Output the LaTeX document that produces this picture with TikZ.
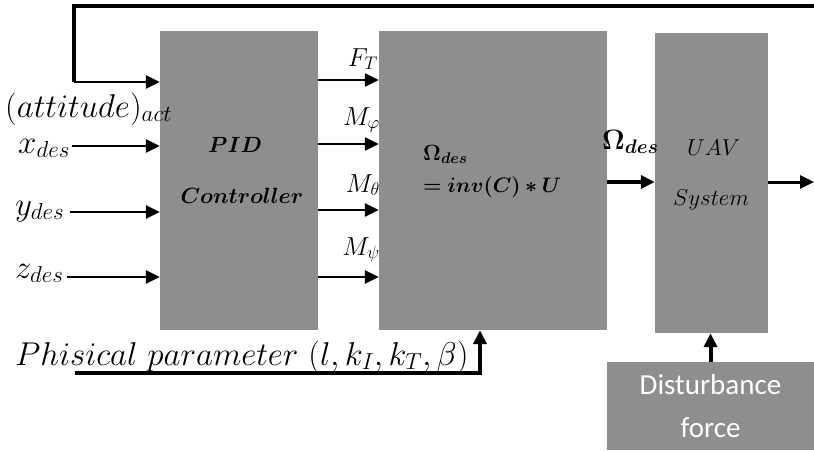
\RequirePackage{fix-cm}
\documentclass[tikz,border=0pt]{standalone}
\usepackage{amsmath}
\usepackage{bm}
\usepackage{fontspec}
\newfontfamily\calibri{Carlito}
\usetikzlibrary{positioning,arrows.meta}
\definecolor{blkgray}{RGB}{143,141,142}

\begin{document}
\begin{tikzpicture}[x=1pt,y=-1pt,
  blk/.style={fill=blkgray,draw=none,inner sep=0pt},
  lbl/.style={inner sep=0pt,font=\fontsize{33}{40}\selectfont},
  sml/.style={inner sep=0pt,font=\fontsize{26}{31}\selectfont},
  inb/.style={inner sep=0pt,font=\fontsize{22}{26}\selectfont},
  arr/.style={-{Triangle[length=14pt,width=13pt]},line width=2.5pt},
  fb/.style={arr,line width=4pt}]
\useasboundingbox (0,0) rectangle (814,451);
% blocks
\node[blk,minimum width=158pt,minimum height=299pt] (pid) at (239,180.5) {};
\node[blk,minimum width=228pt,minimum height=299pt] (mix) at (493,180.5) {};
\node[blk,minimum width=113pt,minimum height=300pt] (uav) at (711.5,183) {};
\node[blk,minimum width=207pt,minimum height=88pt,text=white,align=center,
  font=\calibri\fontsize{29}{43}\selectfont] (dist) at (710.5,406) {Disturbance\\force};
% texts inside the blocks
\node[inb,anchor=base] (pidt) at (235,152) {$\bm{PID}$};
\node[inb,anchor=base] (ctrl) at (242,203) {$\bm{Controller}$};
\node[inb,anchor=base west] (eqa) at (423,160) {$\bm{\Omega_{des}}$};
\node[inb,anchor=base west,font=\fontsize{21}{25}\selectfont] (eqb) at (423,192) {$\bm{=inv(C)*U}$};
\node[inb,anchor=base west,font=\fontsize{23}{27}\selectfont] (uavt) at (687,155) {$UAV$};
\node[inb,anchor=base west,font=\fontsize{23}{27}\selectfont] (syst) at (673,205) {$System$};
% input labels
\node[lbl,anchor=base west] (att) at (5,117) {$(attitude)_{act}$};
\node[lbl,anchor=base west] (xd) at (18,153) {$x_{des}$};
\node[lbl,anchor=base west] (yd) at (15,215) {$y_{des}$};
\node[lbl,anchor=base west] (zd) at (15,278) {$z_{des}$};
\node[lbl,anchor=base west] (pp) at (15,365) {$Phisical\ parameter\ (l,k_I,k_T,\beta)$};
% output labels
\node[sml,anchor=base east] (ft) at (378,66) {$F_T$};
\node[sml,anchor=base east] (mphi) at (380,125) {$M_\varphi$};
\node[sml,anchor=base east] (mth) at (380,192) {$M_\theta$};
\node[sml,anchor=base east] (mpsi) at (380,255) {$M_\psi$};
\node[inb,anchor=base west,font=\fontsize{28}{33}\selectfont] (om) at (602,149) {$\bm{\Omega_{des}}$};
% free ends
\coordinate (fbR) at (814,6);
\coordinate (fbL) at (74,82);
\coordinate (xin) at (72,146);
\coordinate (yin) at (70,212);
\coordinate (zin) at (67,277);
\coordinate (ppL) at (75,373);
\coordinate (ppR) at (480,373);
\coordinate (out) at (814,182);
% connectors
\draw[fb,-] (fbR) -| (fbL);
\draw[arr] (fbL) -- (fbL -| pid.west);
\draw[arr] (xin) -- (xin -| pid.west);
\draw[arr] (yin) -- (yin -| pid.west);
\draw[arr] (zin) -- (zin -| pid.west);
\foreach \y in {80,144,210,277}
  \draw[arr] (pid.east |- 0,\y) -- (mix.west |- 0,\y);
\draw[fb] (mix.east |- out) -- (uav.west |- out);
\draw[arr,line width=3pt] (uav.east |- out) -- (out);
\draw[fb] (ppL) -- (ppR) -- (ppR |- mix.south);
\draw[fb] (dist.north) -- (dist.north |- uav.south);
\end{tikzpicture}
\end{document}
